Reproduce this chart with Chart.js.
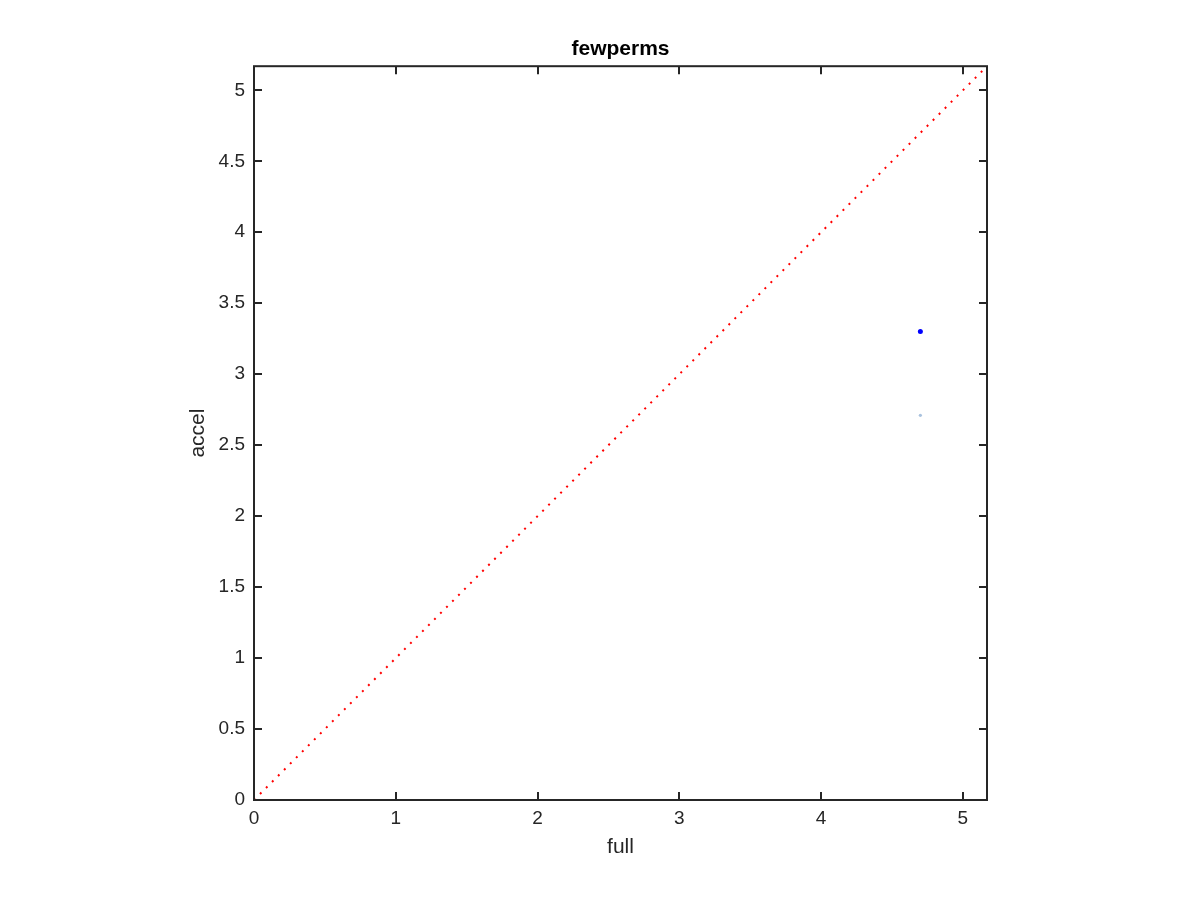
<!DOCTYPE html>
<html lang="en">
<head>
    <meta charset="UTF-8">
    <title>fewperms</title>
    <script src="https://cdn.jsdelivr.net/npm/chart.js"></script>
    <style>
        body {
            margin: 0;
            background-color: #ffffff;
        }
        #plot {
            display: block;
        }
    </style>
</head>
<body>
    <canvas id="plot" width="1200" height="900"></canvas>

    <script>
        // points
        const fullVals = [4.70];
        const accelVals = [3.30];
        const fullVals2 = [4.70];
        const accelVals2 = [2.71];

        // y = x reference line
        const diagVals = [0, 5.17];

        const xTicks = [0, 1, 2, 3, 4, 5];
        const yTicks = [0, 0.5, 1, 1.5, 2, 2.5, 3, 3.5, 4, 4.5, 5];
        const axisMax = 5.17;

        const axisColor = '#262626';
        const fontFamily = "'Liberation Sans', Helvetica, Arial, sans-serif";

        // matlab style box with inward ticks on all 4 sides
        const boxPlugin = {
            id: 'box',
            afterDraw(chart) {
                const { ctx, chartArea: a, scales } = chart;
                const len = 8;
                ctx.save();
                ctx.strokeStyle = axisColor;
                ctx.lineWidth = 2;
                ctx.beginPath();
                scales.x.ticks.forEach(t => {
                    const px = Math.round(scales.x.getPixelForValue(t.value));
                    ctx.moveTo(px, a.bottom);
                    ctx.lineTo(px, a.bottom - len);
                    ctx.moveTo(px, a.top);
                    ctx.lineTo(px, a.top + len);
                });
                scales.y.ticks.forEach(t => {
                    const py = Math.round(scales.y.getPixelForValue(t.value));
                    ctx.moveTo(a.left, py);
                    ctx.lineTo(a.left + len, py);
                    ctx.moveTo(a.right, py);
                    ctx.lineTo(a.right - len, py);
                });
                ctx.stroke();
                ctx.strokeRect(a.left, a.top, a.right - a.left, a.bottom - a.top);
                ctx.restore();
            }
        };

        const ctx = document.getElementById('plot').getContext('2d');

        new Chart(ctx, {
            type: 'scatter',
            data: {
                datasets: [
                    {
                        label: 'diag',
                        data: diagVals.map(v => ({ x: v, y: v })),
                        showLine: true,
                        borderColor: '#ff0000',
                        borderWidth: 2,
                        borderDash: [2, 6.5],
                        pointRadius: 0
                    },
                    {
                        label: 'accel',
                        data: fullVals.map((v, i) => ({ x: v, y: accelVals[i] })),
                        backgroundColor: '#0000ff',
                        borderColor: '#0000ff',
                        pointRadius: 2.5,
                        borderWidth: 0
                    },
                    {
                        label: 'accel2',
                        data: fullVals2.map((v, i) => ({ x: v, y: accelVals2[i] })),
                        backgroundColor: '#a9c2de',
                        borderColor: '#a9c2de',
                        pointRadius: 1.6,
                        borderWidth: 0
                    }
                ]
            },
            options: {
                responsive: false,
                animation: false,
                layout: {
                    padding: { left: 170, right: 213, top: 0, bottom: 30 }
                },
                plugins: {
                    legend: { display: false },
                    tooltip: { enabled: false },
                    title: {
                        display: true,
                        fullSize: false,
                        text: 'fewperms',
                        color: '#000000',
                        font: { family: fontFamily, size: 21, weight: 'bold' },
                        padding: { top: 37, bottom: 4 }
                    }
                },
                scales: {
                    x: {
                        type: 'linear',
                        min: 0,
                        max: axisMax,
                        afterFit: s => { s.height = 70; },
                        afterBuildTicks: s => { s.ticks = xTicks.map(v => ({ value: v })); },
                        grid: { display: false, drawTicks: false },
                        border: { display: false },
                        ticks: {
                            color: axisColor,
                            font: { family: fontFamily, size: 19 },
                            padding: 7,
                            maxRotation: 0,
                            callback: v => String(v)
                        },
                        title: {
                            display: true,
                            text: 'full',
                            color: axisColor,
                            font: { family: fontFamily, size: 21 },
                            padding: { top: 0, bottom: 10 }
                        }
                    },
                    y: {
                        type: 'linear',
                        min: 0,
                        max: axisMax,
                        afterFit: s => { s.width = 84; },
                        afterBuildTicks: s => { s.ticks = yTicks.map(v => ({ value: v })); },
                        grid: { display: false, drawTicks: false },
                        border: { display: false },
                        ticks: {
                            color: axisColor,
                            font: { family: fontFamily, size: 19 },
                            padding: 9,
                            callback: v => String(v)
                        },
                        title: {
                            display: true,
                            text: 'accel',
                            color: axisColor,
                            font: { family: fontFamily, size: 21 },
                            padding: { top: 16, bottom: 0 }
                        }
                    }
                }
            },
            plugins: [boxPlugin]
        });
    </script>
</body>
</html>
